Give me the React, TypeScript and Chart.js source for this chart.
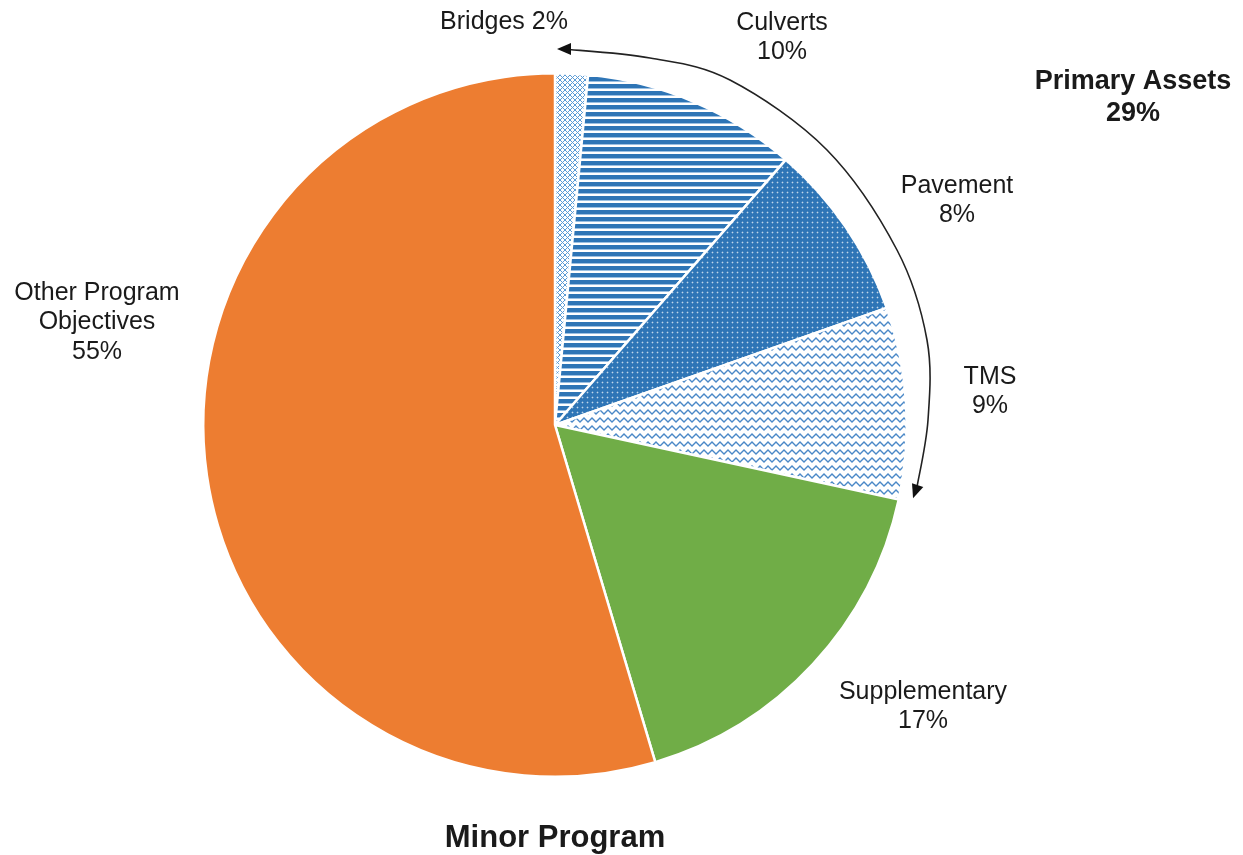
import React, { useEffect, useRef } from "react";
import { Chart, registerables } from "chart.js";

Chart.register(...registerables);

const categories = ["Bridges", "Culverts", "Pavement", "TMS", "Supplementary", "Other Program Objectives"];
const shares = [1.5, 9.9, 8.2, 8.8, 17.0, 54.6];
const percentLabels = ["2%", "10%", "8%", "9%", "17%", "55%"];
const groupTitle = "Primary Assets";
const groupPercent = "29%";
const chartTitle = "Minor Program";

const BLUE = "#2e75b6";

function makePattern(kind: string): CanvasPattern | string {
  const c = document.createElement("canvas");
  const ctx = c.getContext("2d")!;
  if (kind === "cross") {
    c.width = 5; c.height = 5;
    ctx.fillStyle = "#fff"; ctx.fillRect(0, 0, 5, 5);
    ctx.strokeStyle = "#5b9bd5"; ctx.lineWidth = 1;
    ctx.beginPath();
    ctx.moveTo(0, 0); ctx.lineTo(5, 5);
    ctx.moveTo(5, 0); ctx.lineTo(0, 5);
    ctx.stroke();
  } else if (kind === "hstripe") {
    c.width = 8; c.height = 7;
    ctx.fillStyle = "#fff"; ctx.fillRect(0, 0, 8, 7);
    ctx.fillStyle = BLUE; ctx.fillRect(0, 0, 8, 4);
    ctx.fillStyle = "#9cc0e2"; ctx.fillRect(0, 4, 8, 1);
  } else if (kind === "dots") {
    c.width = 5; c.height = 5;
    ctx.fillStyle = BLUE; ctx.fillRect(0, 0, 5, 5);
    ctx.fillStyle = "rgba(255,255,255,0.7)"; ctx.fillRect(2, 2, 1, 1);
    ctx.fillStyle = "rgba(255,255,255,0.22)";
    ctx.fillRect(1, 2, 1, 1); ctx.fillRect(3, 2, 1, 1); ctx.fillRect(2, 1, 1, 1); ctx.fillRect(2, 3, 1, 1);
  } else if (kind === "wave") {
    c.width = 8; c.height = 8;
    ctx.fillStyle = "#fff"; ctx.fillRect(0, 0, 8, 8);
    ctx.strokeStyle = "#4a88c7"; ctx.lineWidth = 1.3;
    ctx.beginPath();
    ctx.moveTo(-4, 6); ctx.lineTo(0, 2); ctx.lineTo(4, 6); ctx.lineTo(8, 2); ctx.lineTo(12, 6);
    ctx.stroke();
  } else {
    return kind;
  }
  return ctx.createPattern(c, "repeat")!;
}

const labelPlugin = {
  id: "customLabels",
  afterDraw(chart: any) {
    const ctx = chart.ctx as CanvasRenderingContext2D;
    const arc = chart.getDatasetMeta(0).data[0];
    const cx = arc.x, cy = arc.y;
    ctx.save();
    ctx.fillStyle = "#1a1a1a";
    ctx.textAlign = "center";
    ctx.textBaseline = "middle";
    const f = "25px 'Liberation Sans', Arial, sans-serif";
    const fb = "bold 27px 'Liberation Sans', Arial, sans-serif";
    const put = (lines: string[], x: number, y: number, font: string, lh = 29.5) => {
      ctx.font = font;
      lines.forEach((t, i) => ctx.fillText(t, x, y + i * lh));
    };
    put([`${categories[0]} ${percentLabels[0]}`], 504, 22, f);
    put([categories[1], percentLabels[1]], 782, 23, f);
    put([categories[2], percentLabels[2]], 957, 186, f);
    put([categories[3], percentLabels[3]], 990, 377, f);
    put([categories[4], percentLabels[4]], 923, 692, f);
    put(["Other Program", "Objectives", percentLabels[5]], 97, 293, f);
    put([groupTitle, groupPercent], 1133, 82, fb, 32);
    ctx.font = "bold 31px 'Liberation Sans', Arial, sans-serif";
    ctx.fillText(chartTitle, 555, 838);

    // curved arrow spanning primary assets
    const rel = [[8, -376], [95, -367], [175, -345], [272, -275], [342, -175], [372, -85], [373, -5], [362, 62]];
    const pts = rel.map(([dx, dy]) => [cx + dx, cy + dy]);
    ctx.strokeStyle = "#222";
    ctx.lineWidth = 1.6;
    ctx.beginPath();
    ctx.moveTo(pts[0][0], pts[0][1]);
    for (let i = 0; i < pts.length - 1; i++) {
      const p0 = pts[Math.max(0, i - 1)], p1 = pts[i], p2 = pts[i + 1], p3 = pts[Math.min(pts.length - 1, i + 2)];
      const c1x = p1[0] + (p2[0] - p0[0]) / 6, c1y = p1[1] + (p2[1] - p0[1]) / 6;
      const c2x = p2[0] - (p3[0] - p1[0]) / 6, c2y = p2[1] - (p3[1] - p1[1]) / 6;
      ctx.bezierCurveTo(c1x, c1y, c2x, c2y, p2[0], p2[1]);
    }
    ctx.stroke();
    ctx.fillStyle = "#111";
    const head = (tx: number, ty: number, ux: number, uy: number) => {
      const len = 14, hw = 6;
      const bx = tx - ux * len, by = ty - uy * len;
      ctx.beginPath();
      ctx.moveTo(tx, ty);
      ctx.lineTo(bx - uy * hw, by + ux * hw);
      ctx.lineTo(bx + uy * hw, by - ux * hw);
      ctx.closePath();
      ctx.fill();
    };
    head(pts[0][0] - 6, pts[0][1], -1, 0);
    const last = pts[pts.length - 1];
    const dx = -0.33, dy = 0.94;
    head(last[0] + dx * 12, last[1] + dy * 12, dx, dy);
    ctx.restore();
  },
};

export default function App() {
  const ref = useRef<HTMLCanvasElement | null>(null);
  useEffect(() => {
    if (!ref.current) return;
    const colors = [
      makePattern("cross"),
      makePattern("hstripe"),
      makePattern("dots"),
      makePattern("wave"),
      "#70ad47",
      "#ed7d31",
    ];
    const chart = new Chart(ref.current, {
      type: "pie",
      data: {
        labels: categories,
        datasets: [
          {
            data: shares,
            backgroundColor: colors as any,
            borderColor: "#ffffff",
            borderWidth: 2.5,
          },
        ],
      },
      options: {
        animation: false,
        responsive: false,
        layout: { padding: { left: 202, right: 335, top: 72, bottom: 77 } },
        plugins: {
          legend: { display: false },
          tooltip: { enabled: false },
        },
      },
      plugins: [labelPlugin],
    });
    return () => chart.destroy();
  }, []);
  return (
    <div style={{ position: "fixed", left: 0, top: 0, width: 1243, height: 855, background: "#fff" }}>
      <canvas ref={ref} width={1243} height={855} style={{ width: 1243, height: 855 }} />
    </div>
  );
}
